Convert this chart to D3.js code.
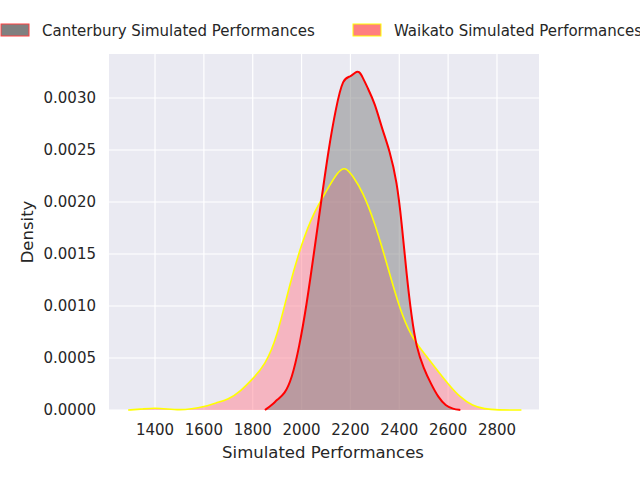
<!DOCTYPE html><html><head><script src="https://cdn.jsdelivr.net/npm/d3@7"></script>
<style>body{margin:0;background:#fff}text{font-family:"DejaVu Sans",sans-serif;fill:#262626}</style></head><body>
<svg id="c" width="640" height="480"></svg>
<script>
const cantX=[1850,1880,1900,1930,1960,1990,2020,2050,2080,2110,2140,2170,2200,2220,2235,2250,2270,2300,2330,2360,2390,2410,2430,2450,2470,2500,2530,2560,2590,2620,2650];
const cantY=[0,0.00005,0.0001,0.00015,0.0003,0.0006,0.001,0.0015,0.002,0.0025,0.0029,0.0032,0.0032,0.00325,0.00326,0.0032,0.0031,0.00295,0.0027,0.0025,0.0022,0.0018,0.0013,0.0009,0.0006,0.0004,0.00025,0.00012,0.00004,0.00001,0];
const waiX=[1290,1350,1400,1450,1500,1550,1600,1650,1700,1750,1800,1850,1900,1950,2000,2050,2100,2150,2180,2210,2250,2300,2350,2400,2450,2500,2550,2600,2650,2700,2750,2800,2900];
const waiY=[0,0.00001,0.00002,0.00001,0,0.00001,0.00003,0.00007,0.0001,0.00018,0.0003,0.00043,0.0007,0.0012,0.0016,0.0019,0.0021,0.0023,0.00234,0.00225,0.0021,0.0018,0.0014,0.00098,0.0007,0.00055,0.0004,0.00025,0.00012,0.00004,0.00001,0,0];
const xTicks=[1400,1600,1800,2000,2200,2400,2600,2800];
const yTicks=[0,0.0005,0.001,0.0015,0.002,0.0025,0.003];
const svg=d3.select("#c");
const L=109,R=539,T=54,B=410;
const x=d3.scaleLinear().domain([1211.6,2972]).range([L,R]);
const y=d3.scaleLinear().domain([0,0.003]).range([B,98]);
svg.append("rect").attr("x",L).attr("y",T).attr("width",R-L).attr("height",B-T).attr("fill","#eaeaf2");
const g=svg.append("g");
xTicks.forEach(t=>g.append("line").attr("x1",x(t)).attr("x2",x(t)).attr("y1",T).attr("y2",B).attr("stroke","#fff").attr("stroke-width",1.2));
yTicks.forEach(t=>g.append("line").attr("x1",L).attr("x2",R).attr("y1",y(t)).attr("y2",y(t)).attr("stroke","#fff").attr("stroke-width",1.2));
xTicks.forEach(t=>svg.append("text").attr("x",x(t)).attr("y",B+25).attr("text-anchor","middle").attr("font-size",15).text(t));
yTicks.forEach(t=>svg.append("text").attr("x",L-13).attr("y",y(t)+5).attr("text-anchor","end").attr("font-size",15).text(t.toFixed(4)));
svg.append("text").attr("x",(L+R)/2-1).attr("y",458).attr("text-anchor","middle").attr("font-size",16.5).text("Simulated Performances");
svg.append("text").attr("transform",`translate(33,${(T+B)/2}) rotate(-90)`).attr("text-anchor","middle").attr("font-size",16.5).text("Density");
const cd=cantX.map((v,i)=>[v,cantY[i]]), wd=waiX.map((v,i)=>[v,waiY[i]]);
const area=d3.area().x(d=>x(d[0])).y0(y(0)).y1(d=>y(d[1])).curve(d3.curveBasis);
const line=d3.line().x(d=>x(d[0])).y(d=>y(d[1])).curve(d3.curveBasis);
svg.append("path").datum(wd).attr("d",area).attr("fill","#ff7f90").attr("fill-opacity",0.5);
svg.append("path").datum(cd).attr("d",area).attr("fill","#808080").attr("fill-opacity",0.5);
svg.append("path").datum(wd).attr("d",line).attr("fill","none").attr("stroke","#ffff00").attr("stroke-width",1.6);
svg.append("path").datum(cd).attr("d",line).attr("fill","none").attr("stroke","#ff0000").attr("stroke-width",2);
const leg=[["Canterbury Simulated Performances","#808080","#ff4040",0],["Waikato Simulated Performances","#ff7f7f","#ffff00",352]];
leg.forEach(([t,f,s,ox])=>{svg.append("rect").attr("x",ox+1).attr("y",24).attr("width",28).attr("height",12).attr("fill",f).attr("stroke",s);
svg.append("text").attr("x",ox+42).attr("y",36).attr("font-size",15).text(t);});
</script></body></html>
